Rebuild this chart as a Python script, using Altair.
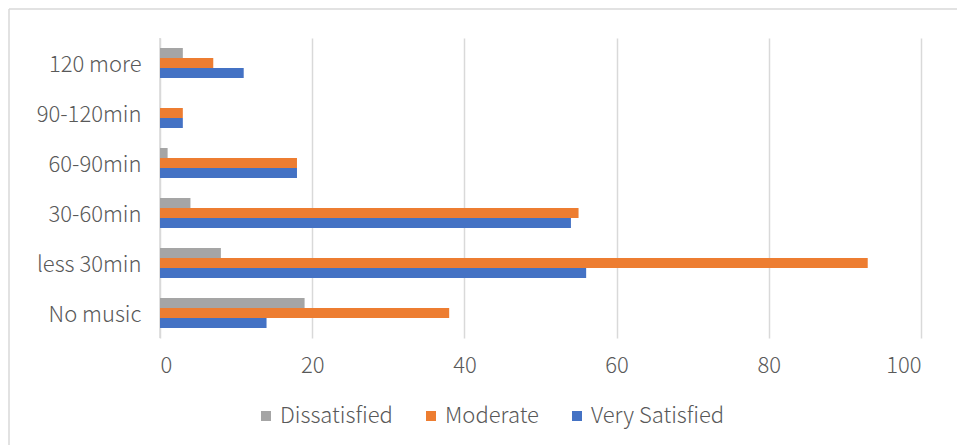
import altair as alt
import pandas as pd

# Listening duration groups, top to bottom
durations = ["120 more", "90-120min", "60-90min", "30-60min", "less 30min", "No music"]
levels = ["Dissatisfied", "Moderate", "Very Satisfied"]
colors = ["#A5A5A5", "#ED7D31", "#4472C4"]

dissatisfied = [3, 0, 1, 4, 8, 19]
moderate = [7, 3, 18, 55, 93, 38]
very_satisfied = [11, 3, 18, 54, 56, 14]

x_ticks = [0, 20, 40, 60, 80, 100]

rows = []
for i, d in enumerate(durations):
    for lvl, vals in zip(levels, [dissatisfied, moderate, very_satisfied]):
        rows.append({"Duration": d, "Level": lvl, "Count": vals[i]})
df = pd.DataFrame(rows)

FONT = "Noto Sans CJK SC"
WEIGHT = 300
TXT = "#595959"
SIZE = 22

bars = alt.Chart(df).mark_bar().encode(
    x=alt.X("Count:Q",
            scale=alt.Scale(domain=[0, 100], nice=False),
            axis=alt.Axis(values=x_ticks, title=None, domain=False, ticks=False,
                          grid=True, gridColor="#d9d9d9", gridWidth=1.5,
                          labelFont=FONT, labelFontSize=SIZE, labelFontWeight=WEIGHT,
                          labelColor=TXT, labelPadding=17)),
    y=alt.Y("Duration:N", sort=durations,
            scale=alt.Scale(paddingInner=0.4, paddingOuter=0.2),
            axis=alt.Axis(title=None, domain=False, ticks=False,
                          labelFont=FONT, labelFontSize=SIZE, labelFontWeight=WEIGHT,
                          labelColor=TXT, labelPadding=19, labelOffset=2)),
    yOffset=alt.YOffset("Level:N", sort=levels,
                        scale=alt.Scale(paddingInner=0, paddingOuter=0)),
    color=alt.Color("Level:N", sort=levels,
                    scale=alt.Scale(domain=levels, range=colors),
                    legend=alt.Legend(title=None, orient="none", direction="horizontal",
                                      legendX=95, legendY=367,
                                      symbolType="square", symbolSize=100,
                                      symbolStrokeWidth=0, labelOffset=3,
                                      columnPadding=27,
                                      labelFont=FONT, labelFontSize=SIZE,
                                      labelFontWeight=WEIGHT, labelColor=TXT)),
)

# Zero line along the category axis
zero_line = alt.Chart(pd.DataFrame({"v": [0]})).mark_rule(
    color="#d9d9d9", strokeWidth=1.5
).encode(x="v:Q")

# Outer frame of the chart (top and left edges)
frame_top = alt.Chart(pd.DataFrame({"a": [0]})).mark_rule(
    color="#d9d9d9", strokeWidth=1.5
).encode(x=alt.value(-151), x2=alt.value(797), y=alt.value(-29))
frame_left = alt.Chart(pd.DataFrame({"a": [0]})).mark_rule(
    color="#d9d9d9", strokeWidth=1.5
).encode(x=alt.value(-151), y=alt.value(-29), y2=alt.value(407))

chart = alt.layer(zero_line, bars, frame_top, frame_left).properties(
    width=761, height=300,
    padding={"left": 160, "top": 38, "right": 36, "bottom": 107},
    autosize=alt.AutoSizeParams(type="none"),
    background="white",
).configure_view(stroke=None)

chart.save("out.html", embed_options={"renderer": "svg", "actions": False})
